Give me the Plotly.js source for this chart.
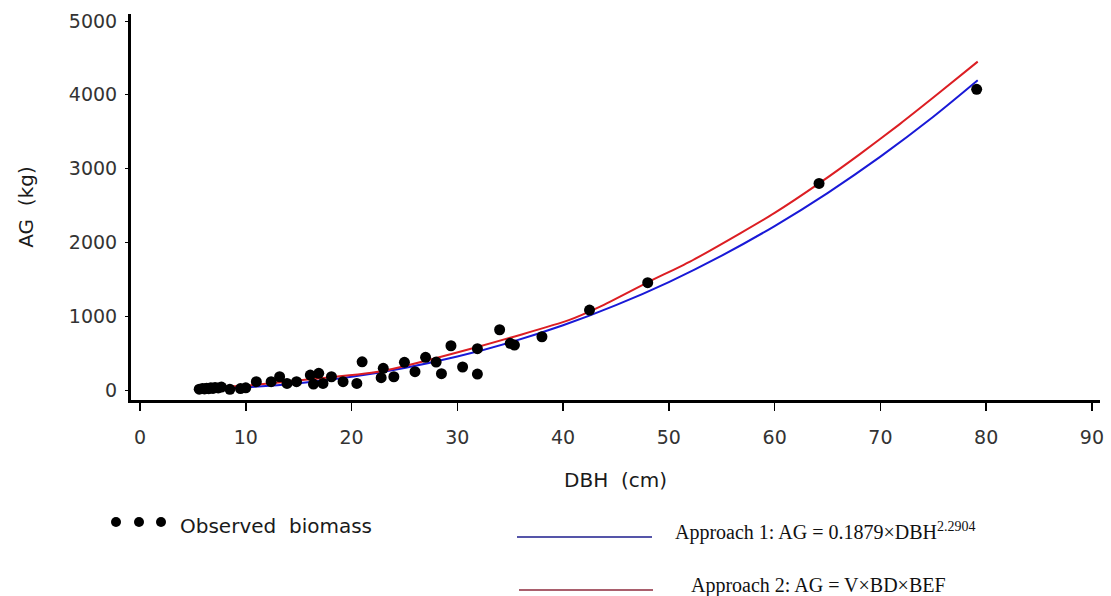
<!DOCTYPE html>
<html>
<head>
<meta charset="utf-8">
<script src="https://cdn.plot.ly/plotly-3.0.1.min.js"></script>
<style>html,body{margin:0;padding:0;background:#fff;}#chart{width:1111px;height:596px;}</style>
</head>
<body>
<div id="chart"></div>
<script>
// Observed trees
const obsDBH = [5.6,5.9,6.1,6.3,6.5,6.7,6.9,7.1,7.4,7.7,8.5,9.5,10.0,11.0,12.4,13.2,13.9,14.8,16.1,16.4,16.9,17.3,18.1,19.2,20.5,21.0,22.8,23.0,24.0,25.0,26.0,27.0,28.0,28.5,29.4,30.5,31.9,31.9,34.0,35.0,35.4,38.0,42.5,48.0,64.2,79.1];
const obsAG  = [12,20,15,25,18,30,22,35,28,40,10,20,30,113,113,180,90,113,203,81,226,90,180,113,90,383,167,294,180,375,248,443,379,221,600,312,560,217,817,633,610,722,1084,1454,2800,4074];

// Approach 1 curve
const app1DBH = [5.7,10,15,20,25,30,35,40,45,50,55,60,65,70,75,79.2];
const app1AG  = [10,37,93,179,299,454,646,877,1150,1463,1821,2222,2669,3162,3702,4196];

// Approach 2 curve
const app2DBH = [5.7,10,15.4,22.7,31.2,40.6,43.5,48,52,56.7,60,64.2,68,71.8,75.5,79.2];
const app2AG  = [22,60,135,250,555,950,1130,1460,1740,2120,2400,2800,3190,3600,4020,4450];

const xTicks = [0,10,20,30,40,50,60,70,80,90];
const yTicks = [0,1000,2000,3000,4000,5000];

const legendObs = "Observed  biomass";
const legend1 = "Approach 1: AG = 0.1879×DBH<sup>2.2904</sup>";
const legend2 = "Approach 2: AG = V×BD×BEF";

const sans = "DejaVu Sans, Liberation Sans, Arial, sans-serif";
const serif = "Liberation Serif, Times New Roman, serif";

const traces = [
  {x: app1DBH, y: app1AG, type: 'scatter', mode: 'lines', line: {color: 'rgb(25,25,215)', width: 2, shape: 'spline', smoothing: 0.8}, name: 'Approach 1', showlegend: false},
  {x: app2DBH, y: app2AG, type: 'scatter', mode: 'lines', line: {color: 'rgb(220,30,35)', width: 2, shape: 'spline', smoothing: 0.6}, name: 'Approach 2', showlegend: false},
  {x: obsDBH, y: obsAG, type: 'scatter', mode: 'markers', marker: {color: '#000', size: 11}, name: 'Observed biomass', showlegend: false}
];

function px(x){ return (x-131)/969; }
function py(y){ return (400-y)/386; }

const dotShapes = [116,139,161].map(function(cx){
  return {type:'circle', xref:'paper', yref:'paper', xsizemode:'pixel', ysizemode:'pixel',
    xanchor: px(cx), yanchor: py(522), x0:-5, x1:5, y0:-5, y1:5,
    fillcolor:'#000', line:{color:'#000', width:0}};
});

const layout = {
  width: 1111, height: 596,
  margin: {l: 131, r: 11, t: 14, b: 196},
  paper_bgcolor: '#fff', plot_bgcolor: '#fff',
  showlegend: false,
  xaxis: {
    range: [-0.85, 90.76], tickvals: xTicks, ticktext: xTicks.map(String),
    ticks: 'outside', ticklen: 8, tickwidth: 1.5, tickcolor: '#000',
    showline: true, linewidth: 3, linecolor: '#000', mirror: false,
    showgrid: false, zeroline: false,
    tickfont: {family: sans, size: 19, color: '#333'},
    ticklabelstandoff: 10,
    title: {text: 'DBH  (cm)', font: {family: sans, size: 20, color: '#1a1a1a'}, standoff: 27}
  },
  yaxis: {
    range: [-135, 5095], tickvals: yTicks, ticktext: yTicks.map(String),
    ticks: 'outside', ticklen: 3, tickwidth: 1, tickcolor: '#000',
    showline: true, linewidth: 3, linecolor: '#000',
    showgrid: false, zeroline: false,
    tickfont: {family: sans, size: 19, color: '#333'},
    ticklabelstandoff: 4,
    title: {text: 'AG  (kg)', font: {family: sans, size: 20, color: '#1a1a1a'}, standoff: 30}
  },
  shapes: dotShapes.concat([
    {type:'line', xref:'paper', yref:'paper', x0: px(517), x1: px(652), y0: py(537), y1: py(537), line:{color:'#1c1c8c', width:1.5}},
    {type:'line', xref:'paper', yref:'paper', x0: px(519), x1: px(653), y0: py(590), y1: py(590), line:{color:'#8c2a3c', width:1.5}}
  ]),
  annotations: [
    {xref:'paper', yref:'paper', x: px(178), y: py(526), xanchor:'left', yanchor:'middle', showarrow:false,
     text: legendObs, font:{family: sans, size: 20, color:'#1a1a1a'}},
    {xref:'paper', yref:'paper', x: px(673), y: py(531), xanchor:'left', yanchor:'middle', showarrow:false,
     text: legend1, font:{family: serif, size: 20, color:'#111'}},
    {xref:'paper', yref:'paper', x: px(689), y: py(585), xanchor:'left', yanchor:'middle', showarrow:false,
     text: legend2, font:{family: serif, size: 20, color:'#111'}}
  ]
};

Plotly.newPlot('chart', traces, layout, {displayModeBar: false, staticPlot: true});
</script>
</body>
</html>
